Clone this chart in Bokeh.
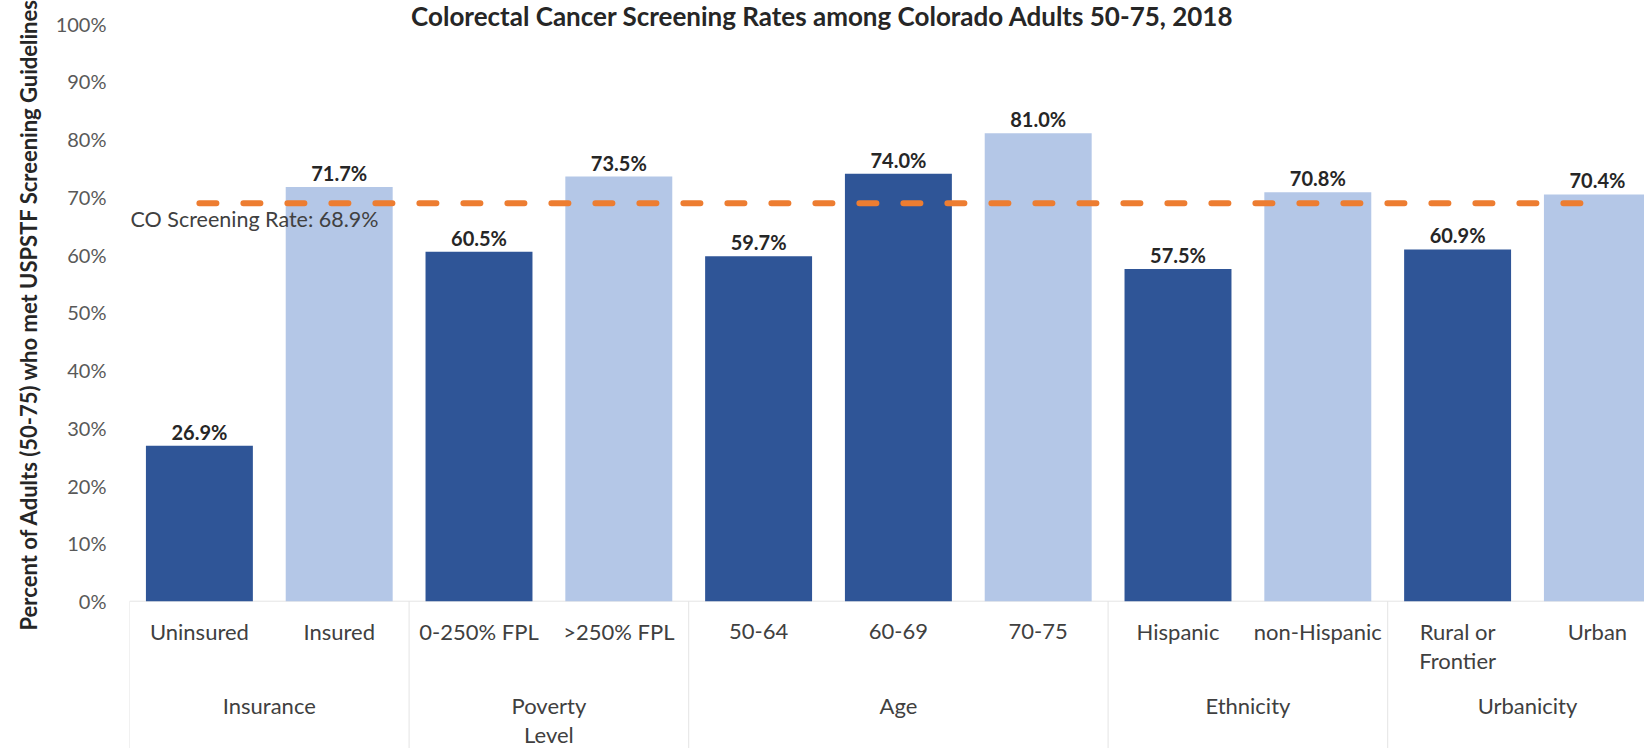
from bokeh.core.properties import value
from bokeh.embed import file_html
from bokeh.models import FixedTicker, PrintfTickFormatter, Range1d, Title
from bokeh.plotting import figure
from bokeh.resources import INLINE

# ---- data -------------------------------------------------------------
title_text = "Colorectal Cancer Screening Rates among Colorado Adults 50-75, 2018"
y_title = "Percent of Adults (50-75) who met USPSTF Screening Guidelines"

groups = ["Insurance", "Poverty\nLevel", "Age", "Ethnicity", "Urbanicity"]
group_sizes = [2, 2, 3, 2, 2]
categories = ["Uninsured", "Insured", "0-250% FPL", ">250% FPL", "50-64", "60-69",
              "70-75", "Hispanic", "non-Hispanic", "Rural or\nFrontier", "Urban"]
rates = [26.9, 71.7, 60.5, 73.5, 59.7, 74.0, 81.0, 57.5, 70.8, 60.9, 70.4]
shades = ["dark", "light", "dark", "light", "dark", "dark", "light", "dark",
          "light", "dark", "light"]
state_rate = 68.9
state_label = "CO Screening Rate: 68.9%"
y_ticks = list(range(0, 101, 10))

# ---- layout & styling -------------------------------------------------
SHADE_COLORS = {"dark": "#2F5597", "light": "#B4C7E7"}
FONT = value("Lato")
W, H = 1644, 748
LEFT = 129                     # frame left edge (px)
PITCH = 139.8                  # width of one category slot (px)
PPU = 5.777                    # px per percentage point
ZERO_PX = 600.7                # screen row of 0 %
X_LO, X_HI = 0.0, (W - LEFT) / PITCH
Y_HI = ZERO_PX / PPU
Y_LO = -(H - ZERO_PX) / PPU


def xdata(px):
    return X_LO + (px - LEFT) / PITCH


def ydata(py):
    return Y_HI - py / PPU


p = figure(width=W, height=H, x_range=Range1d(X_LO, X_HI), y_range=Range1d(Y_LO, Y_HI),
           output_backend="svg", toolbar_location=None, x_axis_type=None,
           min_border_left=LEFT, min_border_top=0, min_border_right=0,
           min_border_bottom=0, outline_line_color=None, background_fill_color="white",
           border_fill_color="white")
p.xgrid.visible = False
p.ygrid.visible = False

# y axis: percentage ticks only between 0 and 100
yax = p.yaxis[0]
yax.ticker = FixedTicker(ticks=y_ticks)
yax.formatter = PrintfTickFormatter(format="%d%%")
yax.axis_line_color = None
yax.major_tick_line_color = None
yax.minor_tick_line_color = None
yax.major_tick_in = 0
yax.major_tick_out = 0
yax.major_label_standoff = 23
yax.major_label_text_font = "Lato"
yax.major_label_text_font_size = "20px"
yax.major_label_text_color = "#595959"

# vertical axis title, starting a little above the category labels
p.add_layout(Title(text=y_title, align="left", offset=118, standoff=22,
                   text_font="Lato", text_font_style="bold",
                   text_font_size="22px", text_color="#262626"), "left")

centers = [i + 0.5 for i in range(len(categories))]

# category axis line and group dividers
GRID = "#E4E4E4"
p.segment(x0=[X_LO], y0=[0], x1=[X_HI], y1=[0], line_color=GRID, line_width=1)
bounds = [0]
for n in group_sizes:
    bounds.append(bounds[-1] + n)
div_x = bounds[:-1]
p.segment(x0=div_x, y0=[0] * len(div_x), x1=div_x, y1=[Y_LO] * len(div_x),
          line_color=GRID, line_width=1)

# bars
p.vbar(x=centers, top=rates, width=0.765,
       fill_color=[SHADE_COLORS[s] for s in shades], line_color=None)

# statewide reference line
p.line(x=[centers[0], centers[-1]], y=[state_rate, state_rate], line_color="#ED7D31",
       line_width=6, line_dash="17 27", line_cap="round")
p.text(x=[xdata(130)], y=[state_rate - 15.5 / PPU], text=[state_label],
       text_align="left", text_baseline="middle", text_font=FONT,
       text_font_size="21.5px", text_color="#404040")

# value labels
p.text(x=centers, y=[r + 14 / PPU for r in rates], text=[f"{r:.1f}%" for r in rates],
       text_align="center", text_baseline="middle", text_font=FONT,
       text_font_style="bold", text_font_size="20px", text_color="#262626")

# category labels (inner level)
cx, cy, ct = [], [], []
for c, x in zip(categories, centers):
    for j, line in enumerate(c.split("\n")):
        cx.append(x)
        cy.append(-(30.5 + 28.5 * j) / PPU)
        ct.append(line)
p.text(x=cx, y=cy, text=ct, text_align="center", text_baseline="middle",
       text_font=FONT, text_font_size="22px", text_color="#404040")

# group labels (outer level)
gx, gy, gt = [], [], []
for g, a, b in zip(groups, bounds[:-1], bounds[1:]):
    for j, line in enumerate(g.split("\n")):
        gx.append((a + b) / 2)
        gy.append(-(104.5 + 28.5 * j) / PPU)
        gt.append(line)
p.text(x=gx, y=gy, text=gt, text_align="center", text_baseline="middle",
       text_font=FONT, text_font_size="22px", text_color="#404040")

# chart title
p.text(x=[xdata(W / 2)], y=[ydata(15)], text=[title_text], text_align="center",
       text_baseline="middle", text_font=FONT, text_font_style="bold",
       text_font_size="26px", text_color="#262626")

open("out.html", "w").write(file_html(p, INLINE))
